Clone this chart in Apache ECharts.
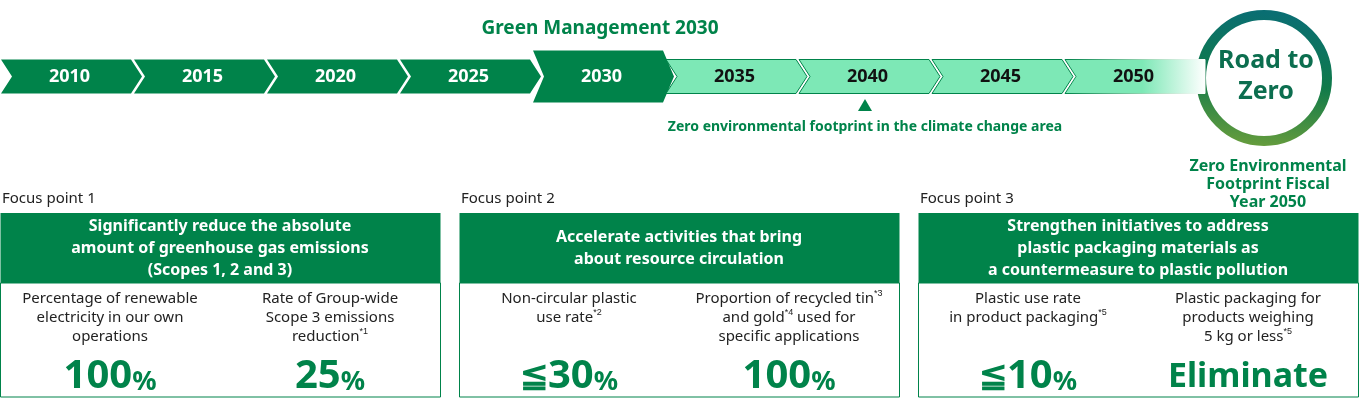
<!DOCTYPE html>
<html><head><meta charset="utf-8">
<script src="https://cdn.jsdelivr.net/npm/echarts@6/dist/echarts.min.js"></script>
<style>html,body{margin:0;padding:0;background:#fff}#c{width:1360px;height:405px}</style>
</head><body><div id="c"></div>
<script>
const years = ['2010','2015','2020','2025','2030','2035','2040','2045','2050'];
const phase = [0,0,0,0,1,2,2,2,3]; // 0 past dark, 1 target dark big, 2 future light, 3 fading
const focusTitles = ['Focus point 1','Focus point 2','Focus point 3'];
const headers = [
 'Significantly reduce the absolute\namount of greenhouse gas emissions\n(Scopes 1, 2 and 3)',
 'Accelerate activities that bring\nabout resource circulation',
 'Strengthen initiatives to address\nplastic packaging materials as\na countermeasure to plastic pollution'];
const goalLabels = [
 'Percentage of renewable\nelectricity in our own\noperations','Rate of Group-wide\nScope 3 emissions\nreduction{s|*1}',
 'Non-circular plastic\nuse rate{s|*2}','Proportion of recycled tin{s|*3}\nand gold{s|*4} used for\nspecific applications',
 'Plastic use rate\nin product packaging{s|*5}','Plastic packaging for\nproducts weighing\n5 kg or less{s|*5}'];
const goalValues = ['{n|100}{p|%}','{n|25}{p|%}','{le|≦}{n|30}{p|%}','{n|100}{p|%}','{le|≦}{n|10}{p|%}','{e|Eliminate}'];

const DG='#00834a', LG='#7de8b6', FONT='"Noto Sans", "Open Sans", sans-serif';
const chart = echarts.init(document.getElementById('c'));
const g = [];
function T(x,y,text,font,fill,extra){
  return {type:'text',style:Object.assign({x:x,y:y,text:text,align:'center',verticalAlign:'top',font:font,fill:fill},extra||{})};
}
g.push(T(600,19,'Green Management 2030','bold 19px '+FONT,DG));
g.push({type:'polygon',shape:{points:[[865,99],[872,111],[858,111]]},style:{fill:DG}});
g.push(T(865,120,'Zero environmental footprint in the climate change area','bold 14px '+FONT,DG));
g.push({type:'circle',shape:{cx:1264,cy:78,r:63},style:{fill:'none',lineWidth:10,stroke:new echarts.graphic.LinearGradient(0.3,0,0.2,1,[{offset:0,color:'#0a6e72'},{offset:0.5,color:'#107a4a'},{offset:1,color:'#6a9e3c'}])}});
g.push(T(1266,45,'Road to\nZero','bold 25px '+FONT,'#0c6e4f',{lineHeight:31}));
g.push(T(1268,157,'Zero Environmental\nFootprint Fiscal\nYear 2050','bold 16px '+FONT,DG,{lineHeight:18}));
for(let i=0;i<3;i++){
  const x=i*459;
  g.push({type:'text',style:{x:x+2,y:191,text:focusTitles[i],font:'15px '+FONT,fill:'#222'}});
  g.push({type:'rect',shape:{x:x+0.5,y:213,width:440,height:70},style:{fill:DG}});
  g.push(T(x+220,248,headers[i],'bold 16px '+FONT,'#fff',{lineHeight:22,verticalAlign:'middle'}));
  g.push({type:'rect',shape:{x:x+0.5,y:283,width:440,height:114},style:{fill:'none',stroke:DG,lineWidth:1}});
  for(let j=0;j<2;j++){
    const k=i*2+j, cx=x+110+j*220;
    g.push(T(cx,289,goalLabels[k],'15px '+FONT,'#222',{lineHeight:19,rich:{s:{fontSize:9,verticalAlign:'top',padding:[0,0,8,0],fill:'#222'}}}));
    g.push(T(cx,377,goalValues[k],'bold 38px '+FONT,DG,{verticalAlign:'middle',rich:{n:{font:'bold 40px '+FONT,fill:DG},p:{font:'bold 27px '+FONT,fill:DG,padding:[10,0,0,0]},le:{font:'bold 34px '+FONT,fill:DG},e:{font:'bold 34px '+FONT,fill:DG}}}));
  }
}
chart.setOption({
  animation:false,
  grid:{left:1,top:50,width:1197,height:53},
  xAxis:{type:'category',data:years,show:false},
  yAxis:{type:'value',min:0,max:1,show:false},
  series:[{type:'custom',data:years.map((y,i)=>[i,phase[i]]),
    renderItem(params,api){
      const i=api.value(0), ph=api.value(1);
      const c=api.coord([i,0.5]); const w=api.size([1,0])[0];
      const x0=c[0]-w/2, x1=c[0]+w/2-3, d=11;
      const big=ph===1, h=big?26:17;
      const y0=c[1]-h, y1=c[1]+h;
      let pts, fill, stroke=null;
      if(ph===3){
        pts=[[x0,y0],[x1+10,y0],[x1+10,y1],[x0,y1],[x0+d,c[1]]];
        fill=new echarts.graphic.LinearGradient(0,0,1,0,[{offset:0,color:LG},{offset:0.55,color:LG},{offset:1,color:'#ffffff'}]);
        stroke=new echarts.graphic.LinearGradient(0,0,1,0,[{offset:0,color:DG},{offset:0.6,color:'#9fd9b8'},{offset:1,color:'#ffffff'}]);
      } else {
        pts=[[x0,y0],[x1,y0],[x1+d,c[1]],[x1,y1],[x0,y1],[x0+d,c[1]]];
        fill=ph===2?LG:DG; if(ph===2)stroke=DG;
      }
      return {type:'group',children:[
        {type:'polygon',shape:{points:pts},style:{fill:fill,stroke:stroke,lineWidth:stroke?1:0}},
        {type:'text',style:{text:years[i],x:c[0]+2,y:c[1],align:'center',verticalAlign:'middle',font:'bold 18px '+FONT,fill:ph>=2?'#111':'#fff'}}
      ]};
    }}],
  graphic:g
});
</script></body></html>
